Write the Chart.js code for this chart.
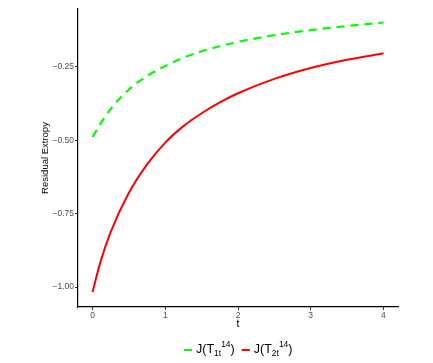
<!DOCTYPE html>
<html>
<head>
<meta charset="utf-8">
<script src="https://cdn.jsdelivr.net/npm/chart.js@4"></script>
<style>
  body { margin: 0; background: #fff; }
  #wrap { width: 433px; height: 363px; }
</style>
</head>
<body>
<div id="wrap"><canvas id="chart" width="433" height="363"></canvas></div>
<script>
// values
var tValues = [0, 0.1, 0.25, 0.5, 0.75, 1, 1.25, 1.5, 1.75, 2, 2.5, 3, 3.5, 4]
var extropyT1 = [-0.489, -0.447, -0.393, -0.327, -0.281, -0.247, -0.219, -0.197, -0.180, -0.165, -0.142, -0.125, -0.111, -0.099]
var extropyT2 = [-1.017, -0.922, -0.812, -0.679, -0.582, -0.508, -0.452, -0.408, -0.371, -0.340, -0.291, -0.254, -0.226, -0.204]
var xTicks = [0, 1, 2, 3, 4]
var yTicks = [-1.00, -0.75, -0.50, -0.25]
var yTickLabels = ['\u22121.00', '\u22120.75', '\u22120.50', '\u22120.25']
// legend label pieces: base, subscript, superscript, closing
var legendLabels = [
	['J(T', '1t', '14', ')'],
	['J(T', '2t', '14', ')'],
]

var font = '"Liberation Sans", Arial, sans-serif'
var green = '#00ff00'
var red = '#ff0000'

function points(ys) {
	return tValues.map(function (t, i) { return { x: t, y: ys[i] } })
}

// ggplot style legend under the panel, drawn by hand to get sub/superscripts
var legendPlugin = {
	id: 'ggLegend',
	afterDraw: function (chart) {
		var ctx = chart.ctx
		var x = 184
		var y = 350
		ctx.save()
		chart.data.datasets.forEach(function (ds, i) {
			ctx.strokeStyle = ds.borderColor
			ctx.lineWidth = 2
			ctx.setLineDash([])
			ctx.beginPath()
			ctx.moveTo(x, y)
			ctx.lineTo(x + 8, y)
			ctx.stroke()
			x += 12
			var parts = legendLabels[i]
			ctx.fillStyle = '#000'
			ctx.textBaseline = 'middle'
			ctx.textAlign = 'left'
			ctx.font = '12.5px ' + font
			ctx.fillText(parts[0], x, y)
			x += ctx.measureText(parts[0]).width
			ctx.font = '8.5px ' + font
			ctx.fillText(parts[1], x, y + 4)
			x += ctx.measureText(parts[1]).width
			ctx.fillText(parts[2], x, y - 5)
			x += ctx.measureText(parts[2]).width
			ctx.font = '12.5px ' + font
			ctx.fillText(parts[3], x, y)
			x += ctx.measureText(parts[3]).width + 7
		})
		ctx.restore()
	},
}

var ctx = document.getElementById('chart').getContext('2d')
var chart = new Chart(ctx, {
	type: 'line',
	data: {
		datasets: [
			{
				label: 'J(T1t^14)',
				data: points(extropyT1),
				borderColor: green,
				borderWidth: 2.2,
				borderDash: [8, 6],
				pointRadius: 0,
				cubicInterpolationMode: 'monotone',
				fill: false,
			},
			{
				label: 'J(T2t^14)',
				data: points(extropyT2),
				borderColor: red,
				borderWidth: 2,
				pointRadius: 0,
				cubicInterpolationMode: 'monotone',
				fill: false,
			},
		],
	},
	options: {
		responsive: false,
		animation: false,
		layout: { padding: { left: 0, top: 9, right: 35, bottom: 0 } },
		plugins: {
			legend: { display: false },
			tooltip: { enabled: false },
		},
		scales: {
			x: {
				type: 'linear',
				min: -0.2,
				max: 4.2,
				afterBuildTicks: function (s) { s.ticks = xTicks.map(function (v) { return { value: v } }) },
				afterFit: function (s) { s.height = 56 },
				grid: { drawOnChartArea: false, tickLength: 3, tickColor: '#333' },
				border: { color: '#000', width: 1.2 },
				ticks: { color: '#4d4d4d', font: { size: 8.5, family: font }, padding: 1, maxRotation: 0 },
				title: { display: true, text: 't', color: '#000', font: { size: 10.5, family: font }, padding: { top: 0, bottom: 33 } },
			},
			y: {
				type: 'linear',
				min: -1.068,
				max: -0.053,
				afterBuildTicks: function (s) { s.ticks = yTicks.map(function (v) { return { value: v } }) },
				afterFit: function (s) { s.width = 78 },
				grid: { drawOnChartArea: false, tickLength: 3, tickColor: '#333' },
				border: { color: '#000', width: 1.2 },
				ticks: {
					color: '#4d4d4d',
					font: { size: 8.5, family: font },
					padding: 1,
					callback: function (v) { return yTickLabels[yTicks.indexOf(v)] },
				},
				title: { display: true, text: 'Residual Extropy', color: '#000', font: { size: 9.5, family: font }, padding: { top: 40, bottom: 0 } },
			},
		},
	},
	plugins: [legendPlugin],
})
</script>
</body>
</html>
